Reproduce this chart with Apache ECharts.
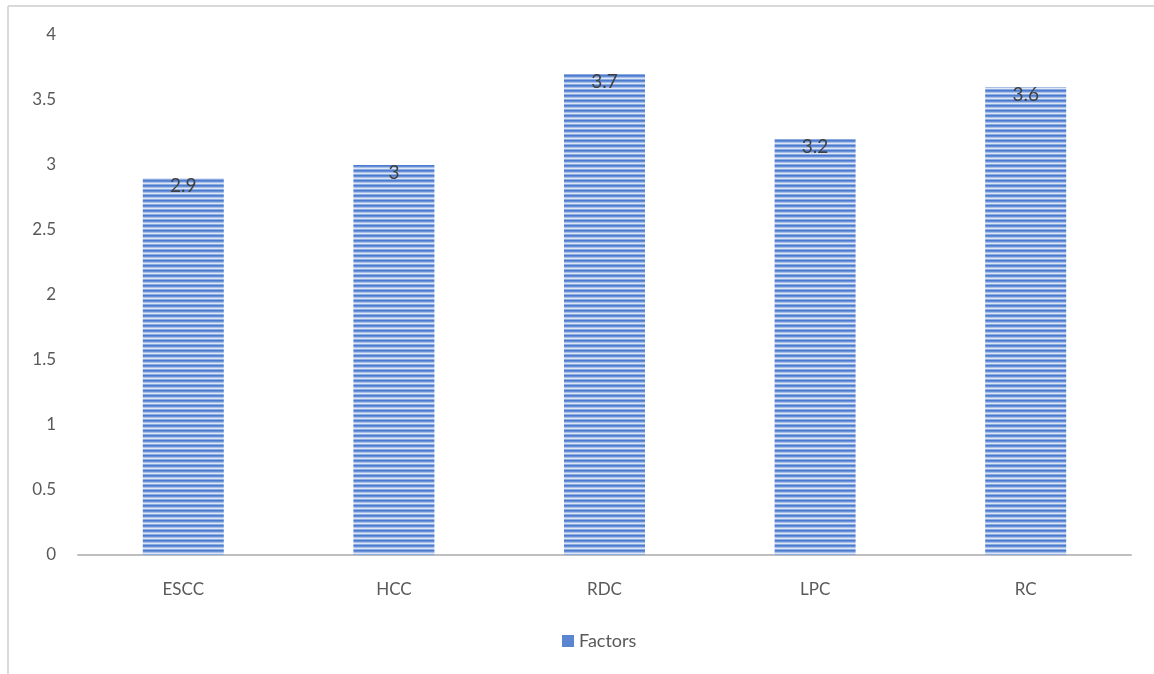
<!DOCTYPE html>
<html>
<head>
<meta charset="utf-8">
<script src="https://cdn.jsdelivr.net/npm/echarts@6/dist/echarts.min.js"></script>
<style>
  html, body { margin: 0; padding: 0; background: #fff; }
  #chart { width: 1154px; height: 674px; }
</style>
</head>
<body>
<div id="chart"></div>
<script>
  // data
  var categories = ['ESCC', 'HCC', 'RDC', 'LPC', 'RC'];
  var factors = [2.9, 3, 3.7, 3.2, 3.6];
  var yTicks = [0, 0.5, 1, 1.5, 2, 2.5, 3, 3.5, 4];

  // horizontal stripe fill like the office pattern
  function stripePattern() {
    var c = document.createElement('canvas');
    c.width = 4;
    c.height = 5;
    var ctx = c.getContext('2d');
    var rows = ['#4a7bcf', '#6890d8', '#a8bfe8', '#dce6f6', '#8dacdf'];
    rows.forEach(function (col, i) {
      ctx.fillStyle = col;
      ctx.fillRect(0, i, 4, 1);
    });
    return c;
  }
  var pattern = { image: stripePattern(), repeat: 'repeat' };

  var font = 'Lato, "Open Sans", sans-serif';
  var myChart = echarts.init(document.getElementById('chart'));
  myChart.setOption({
    animation: false,
    textStyle: { fontFamily: font },
    graphic: [
      { type: 'line', shape: { x1: 8, y1: 6, x2: 1154, y2: 6 }, style: { stroke: '#d9d9d9', lineWidth: 2 } },
      { type: 'line', shape: { x1: 8, y1: 6, x2: 8, y2: 674 }, style: { stroke: '#d9d9d9', lineWidth: 2 } }
    ],
    legend: {
      data: [{ name: 'Factors', itemStyle: { color: '#5b84d1' } }],
      left: 557,
      top: 627,
      itemWidth: 12,
      itemHeight: 12,
      icon: 'rect',
      itemGap: 6,
      textStyle: { color: '#595959', fontSize: 18, fontFamily: font }
    },
    grid: { left: 78, right: 23, top: 35, bottom: 119 },
    xAxis: {
      type: 'category',
      data: categories,
      axisLine: { show: true, lineStyle: { color: '#bfbfbf', width: 2 } },
      axisTick: { show: false },
      axisLabel: { color: '#595959', fontSize: 17, margin: 26, fontFamily: font }
    },
    yAxis: {
      type: 'value',
      min: yTicks[0],
      max: yTicks[yTicks.length - 1],
      interval: 0.5,
      splitLine: { show: false },
      axisLine: { show: false },
      axisTick: { show: false },
      axisLabel: { color: '#595959', fontSize: 17, margin: 22, fontFamily: font }
    },
    series: [{
      name: 'Factors',
      type: 'bar',
      data: factors,
      barWidth: 81,
      itemStyle: { color: pattern },
      label: {
        show: true,
        position: 'insideTop',
        distance: -2,
        color: '#404040',
        fontSize: 19,
        fontFamily: font
      }
    }]
  });
</script>
</body>
</html>
